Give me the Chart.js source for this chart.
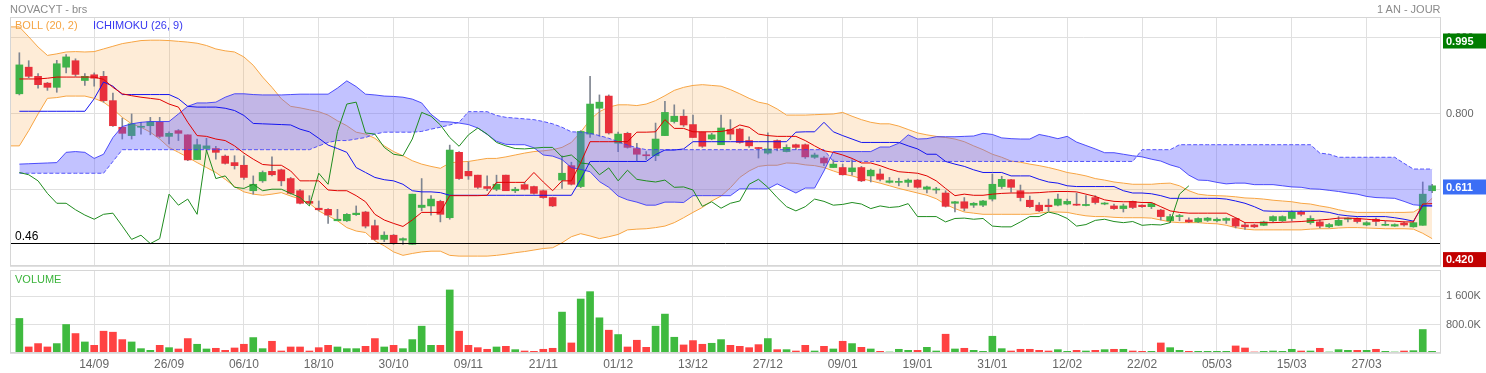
<!DOCTYPE html>
<html><head><meta charset="utf-8">
<script src="https://cdn.jsdelivr.net/npm/chart.js@4.4.1/dist/chart.umd.min.js"></script>
<style>
html,body{margin:0;padding:0;background:#fff;}
body{width:1486px;height:373px;position:relative;overflow:hidden;font-family:"Liberation Sans",Arial,sans-serif;}
#pw{position:absolute;left:0;top:0;width:1486px;height:268px;}
#vw{position:absolute;left:0;top:268px;width:1486px;height:105px;}
.t{position:absolute;font-size:11px;line-height:13px;white-space:nowrap;}
</style></head><body>
<div id="pw"><canvas id="pc"></canvas></div>
<div id="vw"><canvas id="vc"></canvas></div>
<div class="t" style="left:10px;top:2.5px;color:#8a8a8a">NOVACYT - brs</div>
<div class="t" style="left:1377px;top:2.5px;color:#8a8a8a">1 AN - JOUR</div>
<div class="t" style="left:15px;top:19px;color:#f5a443">BOLL (20, 2)</div>
<div class="t" style="left:93px;top:19px;color:#3838f0">ICHIMOKU (26, 9)</div>
<div class="t" style="left:15px;top:273px;color:#3cb43c">VOLUME</div>
<script>
// ---------- data ----------
const tickPos = [8,16,24,32,40,48,56,64,72,80,88,96,104,112,120,128,136,144];
const tickLabels = ['14/09','26/09','06/10','18/10','30/10','09/11','21/11','01/12','13/12','27/12','09/01','19/01','31/01','12/02','22/02','05/03','15/03','27/03'];

const opens = [0.853,0.923,0.899,0.881,0.870,0.923,0.940,0.888,0.903,0.899,
0.835,0.765,0.743,0.765,0.769,0.778,0.741,0.756,0.745,0.680,
0.709,0.709,0.689,0.672,0.665,0.598,0.624,0.649,0.653,0.630,
0.598,0.570,0.552,0.549,0.519,0.519,0.535,0.542,0.506,0.470,
0.481,0.468,0.457,0.554,0.558,0.570,0.527,0.699,0.649,0.639,
0.609,0.602,0.639,0.598,0.614,0.609,0.598,0.580,0.626,0.664,
0.609,0.747,0.815,0.847,0.723,0.749,0.709,0.692,0.690,0.743,
0.780,0.794,0.772,0.752,0.734,0.719,0.759,0.760,0.730,0.711,
0.697,0.730,0.701,0.719,0.719,0.686,0.684,0.659,0.659,0.648,
0.659,0.637,0.642,0.620,0.620,0.620,0.626,0.602,0.600,0.592,
0.565,0.569,0.560,0.560,0.576,0.609,0.627,0.598,0.573,0.560,
0.560,0.560,0.563,0.562,0.559,0.580,0.563,0.558,0.551,0.570,
0.560,0.556,0.547,0.519,0.530,0.521,0.516,0.520,0.519,0.520,
0.525,0.508,0.508,0.507,0.519,0.519,0.525,0.542,0.514,0.516,
0.503,0.507,0.523,0.525,0.508,0.523,0.507,0.505,0.513,0.503,
0.507,0.598];
const highs = [0.961,0.940,0.906,0.883,0.941,0.956,0.945,0.906,0.908,0.912,
0.855,0.789,0.800,0.778,0.791,0.791,0.753,0.759,0.745,0.734,
0.736,0.715,0.692,0.690,0.690,0.637,0.650,0.687,0.655,0.633,
0.602,0.585,0.571,0.551,0.549,0.538,0.558,0.544,0.521,0.490,
0.483,0.474,0.589,0.630,0.585,0.573,0.718,0.701,0.674,0.639,
0.637,0.639,0.639,0.607,0.620,0.610,0.600,0.581,0.690,0.673,
0.756,0.899,0.850,0.850,0.752,0.752,0.723,0.701,0.776,0.833,
0.824,0.811,0.797,0.753,0.749,0.797,0.785,0.762,0.740,0.712,
0.750,0.732,0.719,0.721,0.721,0.697,0.688,0.679,0.668,0.679,
0.662,0.655,0.655,0.633,0.631,0.629,0.628,0.610,0.607,0.598,
0.570,0.580,0.567,0.573,0.642,0.636,0.628,0.613,0.584,0.567,
0.576,0.589,0.576,0.592,0.585,0.585,0.567,0.563,0.563,0.571,
0.561,0.567,0.549,0.536,0.536,0.527,0.527,0.528,0.527,0.527,
0.527,0.512,0.510,0.518,0.532,0.532,0.545,0.545,0.532,0.521,
0.512,0.530,0.527,0.527,0.517,0.526,0.518,0.511,0.516,0.516,
0.621,0.615];
const lows = [0.850,0.895,0.868,0.862,0.857,0.908,0.899,0.875,0.873,0.831,
0.767,0.734,0.734,0.747,0.745,0.738,0.721,0.730,0.677,0.680,
0.703,0.681,0.668,0.655,0.628,0.589,0.620,0.637,0.611,0.589,
0.563,0.563,0.545,0.512,0.519,0.517,0.533,0.500,0.468,0.464,
0.457,0.457,0.457,0.545,0.534,0.516,0.523,0.628,0.628,0.604,
0.598,0.598,0.598,0.593,0.600,0.589,0.578,0.556,0.604,0.613,
0.606,0.738,0.741,0.747,0.701,0.710,0.677,0.680,0.677,0.743,
0.776,0.767,0.738,0.712,0.732,0.719,0.732,0.723,0.712,0.684,
0.694,0.703,0.700,0.706,0.683,0.683,0.664,0.659,0.639,0.639,
0.622,0.621,0.624,0.618,0.611,0.609,0.605,0.592,0.591,0.555,
0.542,0.545,0.554,0.556,0.571,0.604,0.594,0.571,0.554,0.543,
0.545,0.558,0.561,0.559,0.558,0.563,0.561,0.549,0.542,0.551,
0.554,0.551,0.521,0.514,0.519,0.514,0.514,0.517,0.516,0.512,
0.500,0.496,0.501,0.506,0.516,0.517,0.519,0.532,0.510,0.500,
0.501,0.506,0.516,0.513,0.506,0.506,0.506,0.504,0.505,0.502,
0.507,0.593];
const closes = [0.929,0.899,0.877,0.870,0.932,0.950,0.904,0.899,0.894,0.835,
0.769,0.749,0.774,0.766,0.779,0.741,0.749,0.749,0.679,0.719,
0.716,0.699,0.670,0.664,0.633,0.615,0.646,0.640,0.624,0.591,
0.565,0.565,0.548,0.534,0.523,0.536,0.539,0.505,0.470,0.481,
0.459,0.472,0.589,0.560,0.576,0.536,0.705,0.630,0.637,0.607,
0.604,0.615,0.598,0.602,0.602,0.591,0.580,0.558,0.644,0.615,
0.754,0.826,0.831,0.750,0.747,0.712,0.694,0.690,0.734,0.804,
0.794,0.771,0.738,0.715,0.745,0.763,0.747,0.725,0.716,0.709,
0.708,0.710,0.712,0.712,0.687,0.692,0.671,0.668,0.640,0.658,
0.624,0.652,0.628,0.624,0.621,0.626,0.607,0.608,0.600,0.557,
0.569,0.552,0.565,0.571,0.615,0.628,0.607,0.580,0.556,0.545,
0.556,0.576,0.570,0.560,0.562,0.567,0.563,0.551,0.558,0.554,
0.556,0.564,0.530,0.530,0.530,0.516,0.525,0.526,0.523,0.525,
0.505,0.503,0.503,0.516,0.530,0.530,0.542,0.536,0.525,0.505,
0.509,0.520,0.523,0.517,0.514,0.517,0.507,0.509,0.508,0.514,
0.589,0.611];
const volumes = [970000,170000,264000,170000,264000,800000,546000,310000,216000,612000,
584000,376000,310000,122000,75000,216000,150000,113000,405000,245000,
113000,132000,75000,141000,245000,433000,122000,329000,56000,169000,
169000,56000,150000,216000,169000,122000,122000,188000,405000,169000,
216000,122000,376000,753000,216000,216000,1770000,612000,216000,150000,
104000,169000,188000,94000,56000,47000,104000,132000,1148000,282000,
1515000,1722000,988000,640000,518000,169000,358000,160000,753000,1092000,
442000,226000,348000,245000,273000,376000,216000,188000,150000,235000,
405000,94000,94000,56000,216000,56000,188000,113000,329000,264000,
160000,113000,47000,28000,104000,75000,75000,160000,56000,527000,
113000,132000,75000,47000,470000,122000,56000,104000,104000,75000,
56000,94000,47000,75000,56000,75000,94000,104000,104000,56000,
47000,47000,282000,150000,75000,47000,47000,47000,47000,47000,
198000,141000,28000,47000,56000,47000,104000,56000,56000,132000,
28000,94000,75000,75000,75000,104000,47000,28000,56000,66000,
659000,47000];
// Bollinger (20,2): first value sits one slot before the first candle
const bollUpper = [1.029,
1.029,1.003,0.976,0.954,0.958,0.963,0.964,0.963,0.964,0.971,
0.978,0.985,0.989,0.993,0.994,0.994,0.993,0.991,0.989,0.986,
0.980,0.971,0.966,0.963,0.950,0.928,0.897,0.870,0.840,0.820,
0.816,0.811,0.806,0.797,0.782,0.769,0.752,0.747,0.736,0.716,
0.701,0.690,0.677,0.668,0.662,0.657,0.671,0.674,0.675,0.679,
0.683,0.683,0.687,0.692,0.697,0.701,0.703,0.706,0.712,0.725,
0.752,0.785,0.806,0.818,0.824,0.824,0.822,0.826,0.835,0.848,
0.862,0.870,0.875,0.877,0.875,0.873,0.864,0.853,0.841,0.831,
0.826,0.813,0.797,0.797,0.797,0.798,0.799,0.800,0.804,0.794,
0.785,0.778,0.774,0.774,0.768,0.759,0.750,0.745,0.741,0.738,
0.734,0.727,0.716,0.706,0.694,0.686,0.676,0.673,0.668,0.664,
0.659,0.653,0.646,0.642,0.637,0.630,0.626,0.621,0.618,0.615,
0.615,0.615,0.617,0.618,0.611,0.598,0.589,0.586,0.585,0.584,
0.582,0.579,0.578,0.576,0.573,0.571,0.569,0.565,0.563,0.558,
0.554,0.548,0.543,0.541,0.541,0.541,0.541,0.541,0.541,0.542,
0.556,0.578];
const bollLower = [0.716,
0.716,0.756,0.800,0.841,0.843,0.847,0.847,0.847,0.841,0.831,
0.813,0.791,0.774,0.765,0.752,0.734,0.712,0.699,0.686,0.672,
0.659,0.646,0.628,0.609,0.595,0.589,0.586,0.589,0.593,0.584,
0.576,0.565,0.545,0.532,0.519,0.501,0.492,0.488,0.466,0.453,
0.437,0.428,0.433,0.437,0.439,0.439,0.428,0.426,0.426,0.426,
0.426,0.428,0.431,0.435,0.438,0.442,0.446,0.448,0.461,0.477,
0.485,0.479,0.472,0.477,0.483,0.495,0.497,0.498,0.501,0.505,
0.514,0.527,0.541,0.554,0.571,0.584,0.606,0.633,0.650,0.662,
0.665,0.665,0.671,0.670,0.666,0.664,0.659,0.650,0.642,0.637,
0.630,0.624,0.618,0.611,0.604,0.598,0.592,0.586,0.577,0.562,
0.551,0.542,0.539,0.536,0.536,0.536,0.536,0.536,0.536,0.539,
0.542,0.542,0.541,0.536,0.532,0.530,0.530,0.528,0.527,0.527,
0.527,0.526,0.521,0.516,0.514,0.514,0.514,0.512,0.511,0.507,
0.501,0.497,0.495,0.495,0.495,0.495,0.495,0.495,0.497,0.498,
0.498,0.500,0.501,0.501,0.500,0.499,0.498,0.498,0.498,0.497,
0.486,0.472];
// Ichimoku (26, 9)
const tenkan = [0.892,0.892,0.892,0.894,0.897,0.897,0.897,0.897,0.897,0.891,
0.870,0.853,0.848,0.844,0.841,0.838,0.826,0.818,0.778,0.743,
0.741,0.734,0.730,0.716,0.697,0.681,0.667,0.665,0.665,0.650,
0.624,0.624,0.624,0.600,0.598,0.598,0.585,0.569,0.536,0.521,
0.512,0.504,0.521,0.541,0.541,0.541,0.585,0.585,0.585,0.585,
0.586,0.620,0.620,0.620,0.620,0.646,0.621,0.598,0.624,0.624,
0.672,0.727,0.727,0.727,0.727,0.727,0.752,0.752,0.753,0.785,
0.762,0.762,0.753,0.753,0.753,0.754,0.758,0.771,0.765,0.747,
0.743,0.741,0.741,0.741,0.730,0.716,0.703,0.699,0.692,0.683,
0.671,0.671,0.664,0.655,0.648,0.646,0.644,0.637,0.624,0.604,
0.585,0.589,0.586,0.586,0.589,0.591,0.592,0.592,0.592,0.593,
0.595,0.596,0.596,0.595,0.589,0.583,0.574,0.570,0.569,0.569,
0.567,0.567,0.556,0.545,0.541,0.539,0.539,0.539,0.539,0.539,
0.527,0.514,0.514,0.514,0.514,0.515,0.516,0.517,0.519,0.521,
0.523,0.526,0.526,0.525,0.523,0.521,0.519,0.518,0.516,0.516,
0.563,0.564];
const kijun = [0.807,0.807,0.807,0.807,0.807,0.807,0.807,0.807,0.840,0.884,
0.873,0.851,0.851,0.851,0.851,0.851,0.851,0.840,0.820,0.818,
0.818,0.818,0.815,0.809,0.796,0.775,0.774,0.773,0.772,0.771,
0.760,0.753,0.736,0.718,0.709,0.699,0.659,0.646,0.633,0.627,
0.624,0.615,0.598,0.595,0.595,0.593,0.586,0.586,0.586,0.586,
0.586,0.586,0.586,0.586,0.586,0.586,0.586,0.586,0.586,0.586,
0.628,0.675,0.675,0.675,0.675,0.675,0.675,0.675,0.693,0.705,
0.705,0.708,0.727,0.727,0.727,0.727,0.727,0.727,0.727,0.727,
0.727,0.727,0.727,0.752,0.753,0.753,0.778,0.753,0.743,0.734,
0.725,0.725,0.725,0.725,0.725,0.716,0.708,0.694,0.694,0.675,
0.668,0.662,0.653,0.646,0.646,0.646,0.637,0.637,0.637,0.628,
0.621,0.618,0.611,0.609,0.609,0.609,0.609,0.609,0.598,0.592,
0.592,0.590,0.585,0.578,0.578,0.578,0.578,0.578,0.578,0.576,
0.571,0.565,0.556,0.545,0.544,0.544,0.544,0.544,0.544,0.544,
0.541,0.535,0.532,0.530,0.530,0.530,0.530,0.527,0.523,0.518,
0.558,0.558];
const spanA = [0.668,0.669,0.670,0.671,0.672,0.699,0.701,0.699,0.683,0.694,
0.738,0.767,0.774,0.778,0.780,0.780,0.780,0.800,0.820,0.829,
0.829,0.831,0.844,0.853,0.853,0.851,0.850,0.850,0.850,0.851,
0.852,0.852,0.852,0.852,0.868,0.887,0.872,0.852,0.850,0.847,
0.846,0.844,0.839,0.829,0.799,0.780,0.779,0.776,0.772,0.763,
0.746,0.728,0.720,0.719,0.719,0.711,0.692,0.689,0.680,0.659,
0.654,0.648,0.622,0.607,0.584,0.574,0.568,0.560,0.560,0.568,
0.568,0.567,0.585,0.585,0.585,0.585,0.585,0.603,0.603,0.603,
0.603,0.616,0.604,0.592,0.605,0.605,0.650,0.701,0.701,0.701,
0.701,0.701,0.713,0.713,0.723,0.745,0.734,0.735,0.740,0.740,
0.740,0.741,0.742,0.749,0.746,0.737,0.735,0.734,0.734,0.746,
0.741,0.735,0.741,0.726,0.717,0.708,0.698,0.698,0.694,0.690,
0.687,0.681,0.676,0.666,0.659,0.639,0.626,0.625,0.620,0.616,
0.618,0.618,0.614,0.614,0.614,0.611,0.608,0.607,0.603,0.602,
0.599,0.596,0.592,0.589,0.583,0.580,0.579,0.578,0.570,0.561,
0.559,0.558];
const spanB = [0.644,0.644,0.644,0.644,0.644,0.644,0.644,0.644,0.644,0.644,
0.675,0.706,0.706,0.706,0.706,0.706,0.706,0.706,0.706,0.706,
0.706,0.706,0.706,0.706,0.706,0.706,0.706,0.706,0.706,0.706,
0.706,0.706,0.716,0.725,0.730,0.730,0.734,0.738,0.747,0.752,
0.752,0.752,0.752,0.754,0.760,0.765,0.771,0.778,0.806,0.806,
0.806,0.796,0.791,0.789,0.787,0.785,0.780,0.774,0.765,0.753,
0.752,0.749,0.743,0.736,0.727,0.718,0.711,0.706,0.706,0.706,
0.706,0.706,0.706,0.706,0.706,0.706,0.706,0.706,0.706,0.706,
0.706,0.706,0.706,0.706,0.706,0.706,0.706,0.675,0.675,0.675,
0.675,0.675,0.675,0.675,0.675,0.675,0.675,0.675,0.675,0.675,
0.675,0.675,0.675,0.675,0.675,0.675,0.675,0.675,0.675,0.675,
0.675,0.675,0.675,0.675,0.675,0.675,0.675,0.675,0.675,0.675,
0.706,0.706,0.706,0.706,0.719,0.719,0.719,0.719,0.719,0.719,
0.719,0.719,0.719,0.719,0.719,0.719,0.719,0.719,0.719,0.697,
0.694,0.686,0.686,0.686,0.686,0.686,0.686,0.686,0.670,0.655,
0.655,0.655];
const chikouLag = 26;
const refLevel = 0.46;
const priceTicks = [0.4, 0.6, 0.8, 1.0];
const priceTickShown = [0.8, 1.0];
const markerValues = [0.995, closes[closes.length - 1], 0.420];
const volTickValues = [0, 800000, 1600000];
const volTickLabels = ['', '800.0K', '1 600K'];

// ---------- styling / build ----------
const FONT = '"Liberation Sans", Arial, sans-serif';
const markerColors = ['#007d00', '#3b6ef5', '#c20000'];
const idx = closes.map((_, i) => i);
const isUp = i => closes[i] >= opens[i];
const candleColors = idx.map(i => isUp(i) ? '#3fb34a' : '#e8303b');
const volColors = idx.map(i => isUp(i) ? '#3fba3f' : '#ff4242');
const pts = (arr, start) => arr.map((v, k) => ({x: k + start, y: v}));
const GRID = '#e0e0e0';

function xScale(showLabels) {
  return {
    type: 'linear', min: -1, max: 151.95, offset: false,
    grid: {color: GRID, drawTicks: false, offset: false},
    border: {display: false},
    afterBuildTicks(s) { s.ticks = tickPos.map(v => ({value: v})); },
    ticks: {display: showLabels, autoSkip: false, maxRotation: 0, minRotation: 0, padding: 4,
      color: '#666', font: {family: FONT, size: 12},
      callback: v => { const k = tickPos.indexOf(v); return k >= 0 ? tickLabels[k] : ''; }},
    afterFit(s) { s.height = showLabels ? 20 : 0; s.paddingLeft = 0; s.paddingRight = 0; }
  };
}

const borderPlugin = {
  id: 'frame',
  afterDraw(chart) {
    const {ctx, chartArea: a} = chart;
    ctx.save();
    ctx.strokeStyle = '#d6d6d6'; ctx.lineWidth = 1;
    ctx.strokeRect(Math.round(a.left) + 0.5, Math.round(a.top) + 0.5, Math.round(a.width) - 1, Math.round(a.height) - 1);
    ctx.restore();
  }
};

const pricePlugin = {
  id: 'priceExtras',
  afterDatasetsDraw(chart) {
    const {ctx, chartArea: a, scales: {y}} = chart;
    const py = Math.round(y.getPixelForValue(refLevel)) + 0.5;
    ctx.save();
    ctx.strokeStyle = '#000'; ctx.lineWidth = 1;
    ctx.beginPath(); ctx.moveTo(a.left, py); ctx.lineTo(a.right, py); ctx.stroke();
    ctx.fillStyle = '#000'; ctx.font = '12px ' + FONT; ctx.textBaseline = 'alphabetic'; ctx.textAlign = 'left';
    ctx.fillText(refLevel.toFixed(2), a.left + 5, py - 4);
    ctx.restore();
  },
  afterDraw(chart) {
    const {ctx, chartArea: a, scales: {y}, width} = chart;
    ctx.save();
    markerValues.forEach((v, k) => {
      const py = y.getPixelForValue(v) + 1.2;
      ctx.fillStyle = markerColors[k];
      ctx.fillRect(a.right + 2, py - 7.5, width - a.right - 2, 15);
      ctx.fillStyle = '#fff'; ctx.font = 'bold 11px ' + FONT; ctx.textBaseline = 'middle'; ctx.textAlign = 'left';
      ctx.fillText(v.toFixed(3), a.right + 5, py + 0.5);
    });
    ctx.restore();
  }
};

const lineDs = (label, data, color, extra) => Object.assign({
  type: 'line', label, data, borderColor: color, borderWidth: 1, pointRadius: 0, fill: false, tension: 0
}, extra || {});

new Chart(document.getElementById('pc'), {
  type: 'line',
  data: {datasets: [
    lineDs('BB+', pts(bollUpper, -1), '#f7a544', {fill: '+1', backgroundColor: 'rgba(250,160,55,0.2)', order: 10}),
    lineDs('BB-', pts(bollLower, -1), '#f7a544', {order: 10}),
    {type: 'bar', label: 'wick', data: idx.map(i => ({x: i, y: [lows[i], highs[i]]})), backgroundColor: '#7f8590',
      barThickness: 1, grouped: false, order: 8},
    {type: 'bar', label: 'body', data: idx.map(i => ({x: i, y: [opens[i], closes[i]]})), backgroundColor: candleColors,
      barThickness: 7, minBarLength: 1, grouped: false, order: 7},
    lineDs('SpanA', pts(spanA, 0), 'rgba(50,50,250,0.85)', {fill: '+1', backgroundColor: 'rgba(95,95,255,0.38)', order: 5}),
    lineDs('SpanB', pts(spanB, 0), 'rgba(50,50,250,0.85)', {borderDash: [4, 2], order: 5}),
    lineDs('Chikou', pts(closes.slice(chikouLag), 0), '#1f8c1f', {order: 3}),
    lineDs('Kijun', pts(kijun, 0), '#1414f0', {order: 2}),
    lineDs('Tenkan', pts(tenkan, 0), '#e00000', {order: 1})
  ]},
  options: {
    responsive: true, maintainAspectRatio: false, animation: false, events: [],
    layout: {padding: {left: 10, right: 0, top: 17, bottom: 2}},
    plugins: {legend: {display: false}, tooltip: {enabled: false}},
    scales: {
      x: xScale(false),
      y: {position: 'right', min: 0.4, max: 1.055,
        grid: {color: GRID, drawTicks: false}, border: {display: false},
        afterBuildTicks(s) { s.ticks = priceTicks.map(v => ({value: v})); },
        ticks: {padding: 5, color: '#666', font: {family: FONT, size: 11},
          callback: v => priceTickShown.some(t => Math.abs(t - v) < 1e-9) ? v.toFixed(3) : ''},
        afterFit(s) { s.width = 45; s.paddingTop = 0; s.paddingBottom = 0; }}
    }
  },
  plugins: [borderPlugin, pricePlugin]
});

new Chart(document.getElementById('vc'), {
  type: 'bar',
  data: {datasets: [{label: 'Volume', data: idx.map(i => ({x: i, y: volumes[i]})), backgroundColor: volColors,
    barThickness: 7, grouped: false}]},
  options: {
    responsive: true, maintainAspectRatio: false, animation: false, events: [],
    layout: {padding: {left: 10, right: 0, top: 2, bottom: 0}},
    plugins: {legend: {display: false}, tooltip: {enabled: false}},
    scales: {
      x: xScale(true),
      y: {position: 'right', min: 0, max: 2330000,
        grid: {color: GRID, drawTicks: false}, border: {display: false},
        afterBuildTicks(s) { s.ticks = volTickValues.map(v => ({value: v})); },
        ticks: {padding: 5, color: '#666', font: {family: FONT, size: 11},
          callback: v => { const k = volTickValues.indexOf(v); return k >= 0 ? volTickLabels[k] : ''; }},
        afterFit(s) { s.width = 45; s.paddingTop = 0; s.paddingBottom = 0; }}
    }
  },
  plugins: [borderPlugin]
});
</script>
</body></html>
